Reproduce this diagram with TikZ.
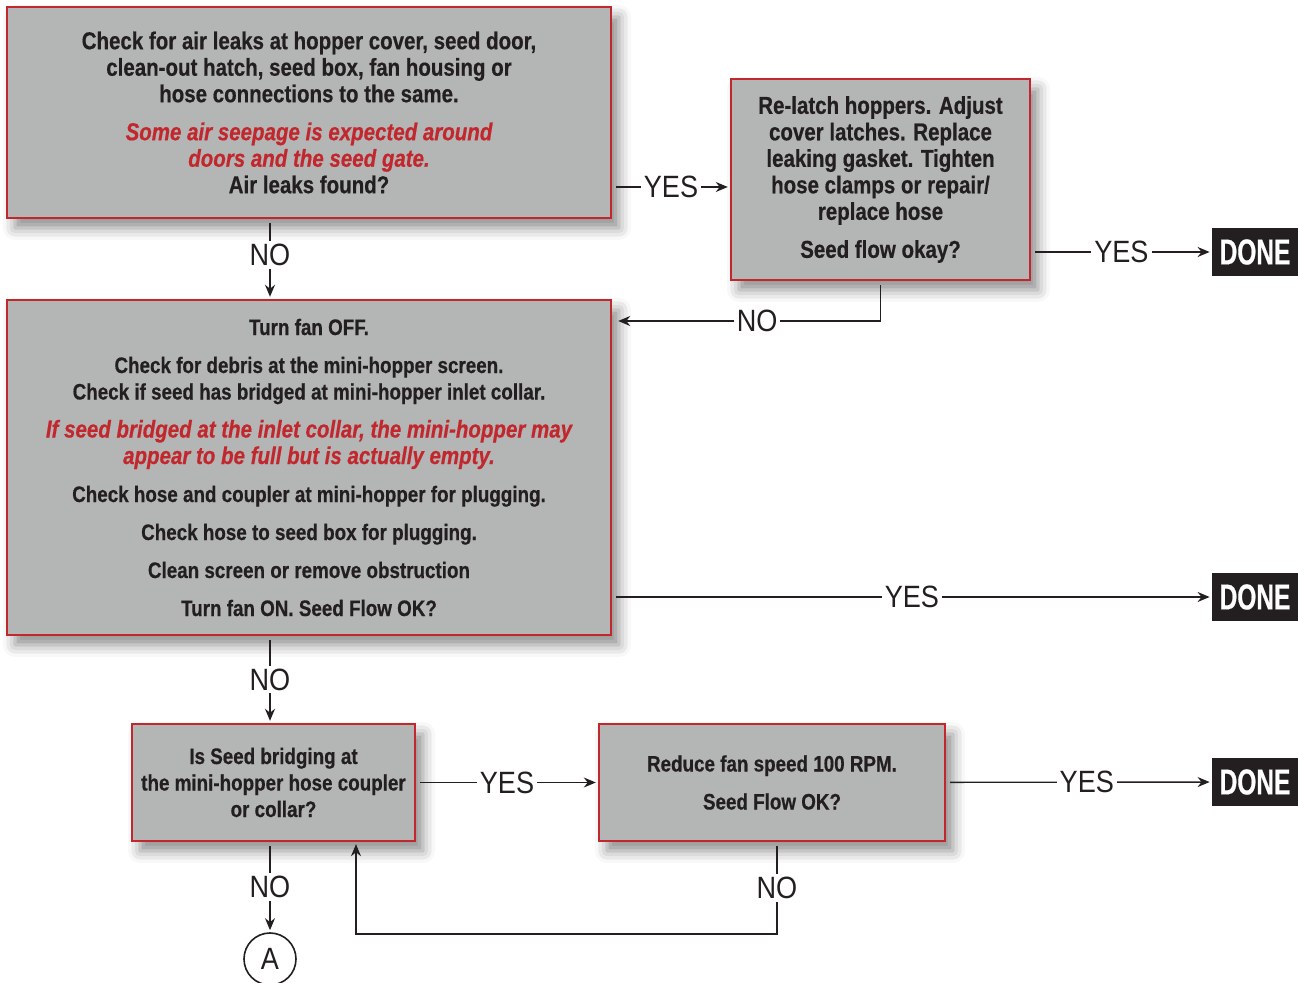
\documentclass[tikz,border=0pt]{standalone}
\usepackage{fontspec}
\setmainfont{Liberation Sans}[FakeStretch=0.84,
  BoldFeatures={FakeBold=0.5},BoldItalicFeatures={FakeBold=0.5}]
\newfontfamily\labelfont{Liberation Sans}[FakeStretch=0.88]
\newfontfamily\donefont{Liberation Sans}[FakeStretch=0.68,
  BoldFeatures={FakeBold=0.5}]
\usetikzlibrary{arrows.meta,shadows.blur}

\definecolor{boxred}{HTML}{C1272D}
\definecolor{boxgray}{HTML}{B4B6B5}
\definecolor{ink}{HTML}{231F20}
\newcommand{\warn}[1]{{\fontsize{12.2}{13.25}\selectfont\color{boxred}\itshape #1}}

\tikzset{
  chkbox/.style={draw=boxred,line width=1.2pt,fill=boxgray,align=center,
    inner sep=0pt,text=ink,font=\bfseries\fontsize{11.2}{13.25}\selectfont,
    blur shadow={shadow xshift=4pt,shadow yshift=-5pt,
      shadow blur radius=6pt,shadow opacity=45}},
  bigtext/.style={font=\bfseries\fontsize{12.2}{13.25}\selectfont},
  donebox/.style={fill=ink,text=white,font=\donefont\bfseries\fontsize{18}{20}\selectfont,
    minimum width=43pt,minimum height=24pt,inner sep=0pt},
  lbl/.style={fill=white,inner sep=1.5pt,text=ink,
    font=\labelfont\fontsize{15.4}{16}\selectfont},
  endcirc/.style={draw=ink,circle,line width=0.8pt,minimum size=26pt,
    inner sep=0pt,text=ink,font=\labelfont\fontsize{15.4}{16}\selectfont}
}

\begin{document}
\begin{tikzpicture}[x=0.5pt,y=-0.5pt,>={Stealth[length=6pt,width=5pt]},
  conn/.style={color=ink,line width=0.7pt,shorten >=1pt,shorten <=2pt}]
\useasboundingbox (0,0) rectangle (1298,983);

% steps
\node[chkbox,bigtext,minimum width=302pt,minimum height=105.5pt] (b1) at (309,112.5)
  {Check for air leaks at hopper cover, seed door,\\
   clean-out hatch, seed box, fan housing or\\
   hose connections to the same.\\[5.75pt]
   \warn{Some air seepage is expected around}\\
   \warn{doors and the seed gate.}\\
   Air leaks found?};
\node[chkbox,bigtext,minimum width=149.5pt,minimum height=100.5pt] (b2) at (880.5,179.5)
  {Re-latch hoppers. Adjust\\
   cover latches. Replace\\
   leaking gasket. Tighten\\
   hose clamps or repair/\\
   replace hose\\[5.75pt]
   Seed flow okay?};
\node[chkbox,minimum width=302pt,minimum height=167.5pt] (b3) at (309,467.5)
  {Turn fan OFF.\\[5.75pt]
   Check for debris at the mini-hopper screen.\\
   Check if seed has bridged at mini-hopper inlet collar.\\[5.75pt]
   \warn{If seed bridged at the inlet collar, the mini-hopper may}\\
   \warn{appear to be full but is actually empty.}\\[5.75pt]
   Check hose and coupler at mini-hopper for plugging.\\[5.75pt]
   Check hose to seed box for plugging.\\[5.75pt]
   Clean screen or remove obstruction\\[5.75pt]
   Turn fan ON. Seed Flow OK?};
\node[chkbox,minimum width=141.5pt,minimum height=58.5pt] (b4) at (273.5,782.5)
  {Is Seed bridging at\\
   the mini-hopper hose coupler\\
   or collar?};
\node[chkbox,minimum width=173pt,minimum height=58.5pt] (b5) at (772,782.5)
  {Reduce fan speed 100 RPM.\\[5.75pt]
   Seed Flow OK?};

% ends
\node[donebox] (d1) at (1255,252) {DONE};
\node[donebox] (d2) at (1255,597) {DONE};
\node[donebox] (d3) at (1255,782) {DONE};
\node[endcirc] (A) at (270,959) {A};

% connectors
\path[conn,->]
(b1.south -| A) edge node[lbl,pos=0.45] {NO} (b3.north -| A)
(b1.east |- 0,187) edge node[lbl] {YES} (b2.west |- 0,187)
(b2.east |- d1) edge node[lbl] {YES} (d1)
(b3.east |- d2) edge node[lbl] {YES} (d2)
(b3.south -| A) edge node[lbl] {NO} (b4.north -| A)
(b4) edge node[lbl] {YES} (b5)
(b5) edge node[lbl,pos=0.53] {YES} (d3)
(b4.south -| A) edge node[lbl] {NO} (A);
\draw[conn,->,shorten >=3pt] (b2.south) |- node[lbl,pos=0.73] {NO} (b3.east |- 0,321);
\coordinate (back) at (356,934);
\draw[conn,->] ([xshift=2.5pt]b5.south) |- node[lbl,pos=0.25] {NO} (back) -- (b4.south -| back);
\end{tikzpicture}
\end{document}
